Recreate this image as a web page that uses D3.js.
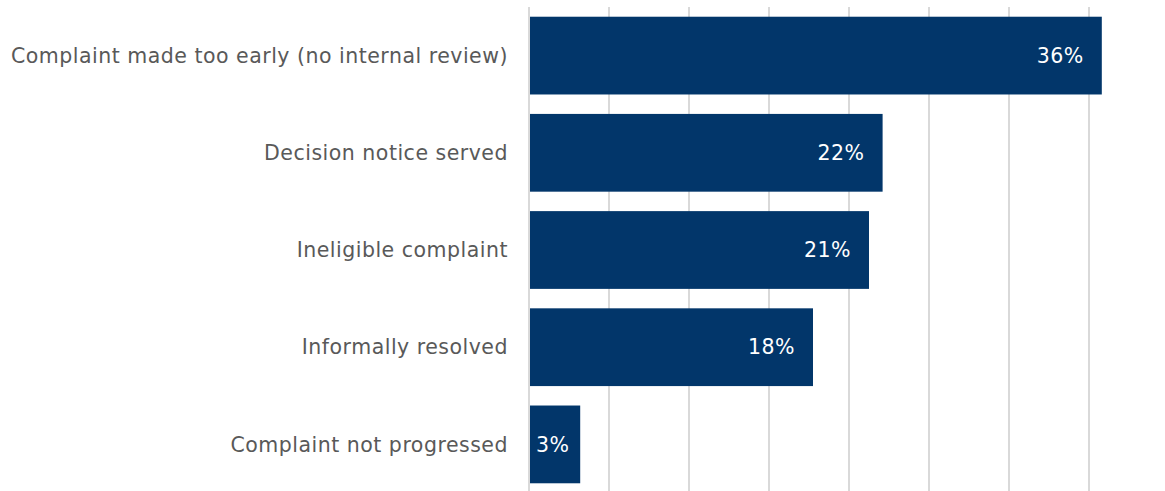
<!DOCTYPE html>
<html>
<head>
<meta charset="utf-8">
<script src="https://cdn.jsdelivr.net/npm/d3@7"></script>
<style>
  html, body { margin: 0; padding: 0; background: #fff; }
  svg { display: block; font-family: "DejaVu Sans", Verdana, sans-serif; }
</style>
</head>
<body>
<svg id="chart" width="1165" height="491"></svg>
<script>
// Categories and values (% of complaints closed)
var categories = [
  "Complaint made too early (no internal review)",
  "Decision notice served",
  "Ineligible complaint",
  "Informally resolved",
  "Complaint not progressed"
];
var values = [35.8, 22.1, 21.25, 17.75, 3.2];
var valueLabels = ["36%", "22%", "21%", "18%", "3%"];
var gridTicks = [0, 5, 10, 15, 20, 25, 30, 35];

var chartWidth = 1165,
    chartHeight = 491,
    plotLeft = 529,
    plotTop = 7,
    fontSize = "20.5px",
    barColor = "#02366a",
    gridColor = "#d9d9d9",
    labelColor = "#595959";

var svg = d3.select("#chart");

var x = d3.scaleLinear()
  .domain([0, 40])
  .range([plotLeft, plotLeft + 640]);

var y = d3.scaleBand()
  .domain(categories)
  .range([plotTop, 493])
  .paddingInner(0.2)
  .paddingOuter(0.1);

// Vertical gridlines.
svg.append("g")
  .attr("class", "grid")
  .selectAll("line")
  .data(gridTicks)
  .join("line")
    .attr("x1", d => x(d))
    .attr("x2", d => x(d))
    .attr("y1", plotTop)
    .attr("y2", chartHeight)
    .style("stroke", gridColor)
    .style("stroke-width", 2);

var data = categories.map((c, i) => ({cat: c, value: values[i], label: valueLabels[i]}));

// Bars.
svg.append("g")
  .selectAll("rect")
  .data(data)
  .join("rect")
    .attr("x", x(0) + 1)
    .attr("y", d => y(d.cat))
    .attr("width", d => x(d.value) - x(0) - 1)
    .attr("height", y.bandwidth())
    .style("fill", barColor);

// Category labels on the left.
svg.append("g")
  .selectAll("text")
  .data(data)
  .join("text")
    .attr("x", plotLeft - 21)
    .attr("y", d => y(d.cat) + y.bandwidth() / 2)
    .attr("dy", "0.35em")
    .style("text-anchor", "end")
    .style("font-size", fontSize)
    .style("letter-spacing", "0.5px")
    .style("fill", labelColor)
    .text(d => d.cat);

// Value labels inside the bar end.
var vals = svg.append("g")
  .selectAll("text")
  .data(data)
  .join("text")
    .attr("y", d => y(d.cat) + y.bandwidth() / 2)
    .attr("dy", "0.35em")
    .style("font-size", fontSize)
    .style("letter-spacing", "0.5px")
    .style("fill", "#fff")
    .style("text-anchor", "end")
    .text(d => d.label);

vals.each(function(d) {
  var w = this.getComputedTextLength();
  var end = x(d.value) - 18;
  // keep short bars' labels inside the bar
  if (end - w < x(0) + 7) end = x(0) + 7 + w;
  d3.select(this).attr("x", end);
});
</script>
</body>
</html>
